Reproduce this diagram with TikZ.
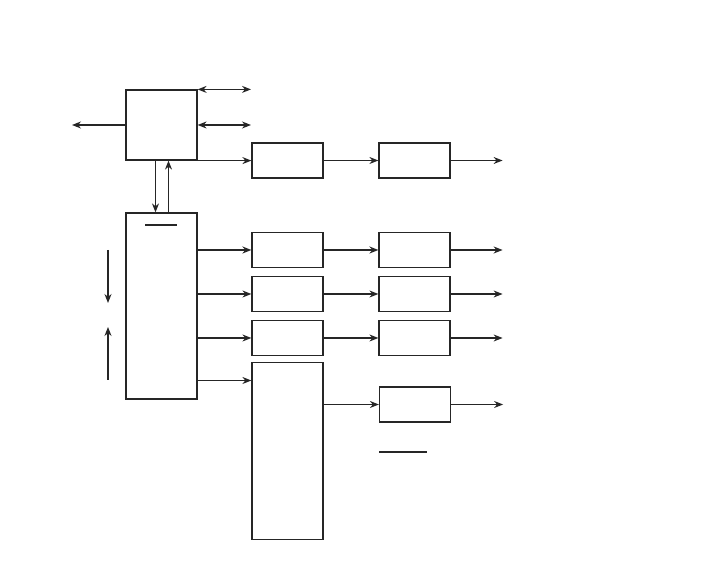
\documentclass[tikz,border=0pt]{standalone}
\usepackage{tikz}
\usetikzlibrary{arrows.meta,positioning,calc}
\tikzstyle{block} = [rectangle, draw=black!85, line width=1.2pt, minimum width=71pt, minimum height=35pt, inner sep=0pt]
\tikzstyle{arrow} = [-{Stealth[length=9pt,width=7pt]}, line width=1.2pt, black!85]
\tikzstyle{dblarrow} = [{Stealth[length=9pt,width=7pt]}-{Stealth[length=9pt,width=7pt]}, line width=1.2pt, black!85]
\tikzstyle{mark line} = [line width=1.2pt, black!85]

\begin{document}
\begin{tikzpicture}[x=1pt, y=1pt, node distance=7.8pt]
\useasboundingbox (0,0) rectangle (702,576);
\node[block, minimum height=70pt] (ctrl) at (161.5,451) {};
\node[block, minimum height=186pt] (bus) at (161.5,270) {};
\node[block] (p1) at (287.5,415.5) {};
\node[block, right=54.8pt of p1] (q1) {};
\node[block] (p2) at (287.5,326) {};
\node[block, below=of p2] (p3) {};
\node[block, below=of p3] (p4) {};
\node[block, below=5.8pt of p4, minimum height=177pt] (pe) {};
\node[block, right=54.8pt of p2] (q2) {};
\node[block, right=54.8pt of p3] (q3) {};
\node[block, right=54.8pt of p4] (q4) {};
\node[block] (q5) at (415,171.5) {};

\coordinate (outl) at (72,451);
\coordinate (io1) at (251,486);
\coordinate (io2) at (251,451);
\coordinate (dn1) at (108,326);
\coordinate (dn2) at (108,273);
\coordinate (up1) at (108,196);
\coordinate (up2) at (108,249);
\coordinate (r4) at ($(bus.east)+(0,-74.5)$);

\draw[arrow] (ctrl.west) -- (outl);
\draw[dblarrow] (ctrl.north east) -- (ctrl.north east -| io1);
\draw[dblarrow] (ctrl.east) -- (io2);
\draw[arrow] (ctrl.south east) -- (ctrl.south east -| p1.west);
\draw[arrow] (p1) -- (q1);
\draw[arrow] (q1.east) -- ++(52,0);
\draw[arrow] ([xshift=-6pt]ctrl.south) -- ([xshift=-6pt]bus.north);
\draw[arrow] ([xshift=7pt]bus.north) -- ([xshift=7pt]ctrl.south);
\draw[arrow] (dn1) -- (dn2);
\draw[arrow] (up1) -- (up2);
\draw[mark line] (145,351) -- (177,351);

\draw[arrow, line width=2.4pt] (bus.east |- p2.west) -- (p2.west);
\draw[arrow] (bus.east |- p3.west) -- (p3.west);
\draw[arrow] (bus.east |- p4.west) -- (p4.west);
\draw[arrow] (r4) -- (r4 -| pe.west);
\draw[arrow, line width=2.4pt] (p2) -- (q2);
\draw[arrow] (p3) -- (q3);
\draw[arrow] (p4) -- (q4);
\draw[arrow, line width=2.4pt] (q2.east) -- ++(52,0);
\draw[arrow] (q3.east) -- ++(52,0);
\draw[arrow] (q4.east) -- ++(52,0);
\draw[arrow] (pe.east |- q5.west) -- (q5.west);
\draw[arrow] (q5.east) -- ++(52,0);
\draw[mark line] (379,124) -- (427,124);
\end{tikzpicture}
\end{document}
